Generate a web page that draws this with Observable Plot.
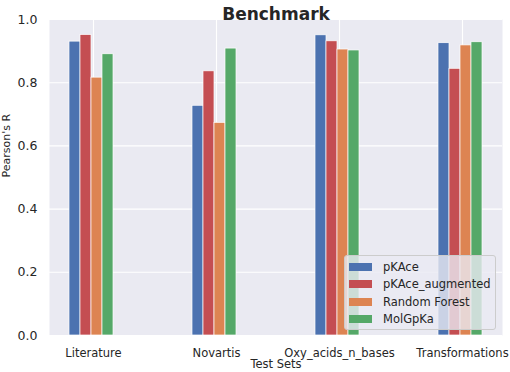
<!DOCTYPE html>
<html>
<head>
<meta charset="utf-8">
<script src="https://cdn.jsdelivr.net/npm/d3@7"></script>
<script src="https://cdn.jsdelivr.net/npm/@observablehq/plot@0.6"></script>
<style>
  body { margin: 0; background: white; }
  #wrap { position: relative; width: 510px; height: 372px; overflow: hidden; font-family: "DejaVu Sans", sans-serif; color: #262626; }
  #legend { position: absolute; left: 344px; top: 255px; width: 150px; height: 73px;
    background: rgba(234,234,242,0.8); border: 1px solid #cccccc; border-radius: 3px; box-sizing: content-box; }
  .row { position: absolute; left: 0; height: 17px; display: flex; align-items: center; font-size: 11.5px; white-space: nowrap; }
  .sw { width: 23px; height: 8px; margin-left: 4px; margin-right: 11px; }
</style>
</head>
<body>
<div id="wrap"></div>
<script>
const categories = ["Literature", "Novartis", "Oxy_acids_n_bases", "Transformations"];
const series = ["pKAce", "pKAce_augmented", "Random Forest", "MolGpKa"];
const pKAce = [0.930, 0.727, 0.950, 0.925];
const pKAce_augmented = [0.951, 0.836, 0.931, 0.844];
const randomForest = [0.816, 0.673, 0.905, 0.918];
const molGpKa = [0.890, 0.908, 0.902, 0.928];
const colors = ["#4c72b0", "#c44e52", "#dd8452", "#55a868"];
const yTicks = [0, 0.2, 0.4, 0.6, 0.8, 1.0];
const title = "Benchmark";
const xLabel = "Test Sets";
const yLabel = "Pearson's R";

const values = [pKAce, pKAce_augmented, randomForest, molGpKa];
const bandW = 48, barW = 11;

const barMarks = series.map((name, j) => Plot.barY(
  categories.map((c, i) => ({category: c, value: values[j][i], series: name})),
  {x: "category", y: "value", fill: colors[j], stroke: "white", strokeWidth: 0.7,
   insetLeft: j * barW, insetRight: bandW - (j + 1) * barW}
));

const chart = Plot.plot({
  width: 510, height: 372,
  marginTop: 19, marginBottom: 37, marginLeft: 49, marginRight: 8,
  style: {fontFamily: "DejaVu Sans", fontSize: "11.5px", color: "#262626", background: "white", overflow: "visible"},
  x: {type: "band", domain: categories, paddingInner: 0.61, paddingOuter: 0.146, align: 0.56},
  y: {domain: [0, 1]},
  marks: [
    Plot.frame({fill: "#eaeaf2", stroke: null}),
    Plot.gridY(yTicks, {stroke: "white", strokeOpacity: 1, strokeWidth: 1.1}),
    Plot.gridX(categories, {stroke: "white", strokeOpacity: 1, strokeWidth: 1.1}),
    ...barMarks,
    Plot.axisX({tickSize: 0, tickPadding: 13, label: null, fill: "#262626"}),
    Plot.axisY(yTicks, {tickSize: 0, tickPadding: 12, label: null, tickFormat: d3.format(".1f"), fill: "#262626", fontSize: 12.5}),
    Plot.text([title], {frameAnchor: "top", dy: -12, fontSize: 17, fontWeight: "bold", fill: "#262626"}),
    Plot.text([xLabel], {frameAnchor: "bottom", dy: 32.5, fontSize: 11.5, fill: "#262626"}),
    Plot.text([yLabel], {frameAnchor: "left", dx: -43.5, rotate: -90, fontSize: 11, fill: "#262626"})
  ]
});

const wrap = document.getElementById("wrap");
wrap.appendChild(chart);

const legend = document.createElement("div");
legend.id = "legend";
series.forEach((name, j) => {
  const row = document.createElement("div");
  row.className = "row";
  row.style.top = (2.5 + j * 17.3) + "px";
  const sw = document.createElement("div");
  sw.className = "sw";
  sw.style.background = colors[j];
  const label = document.createElement("span");
  label.textContent = name;
  row.appendChild(sw);
  row.appendChild(label);
  legend.appendChild(row);
});
wrap.appendChild(legend);
</script>
</body>
</html>
